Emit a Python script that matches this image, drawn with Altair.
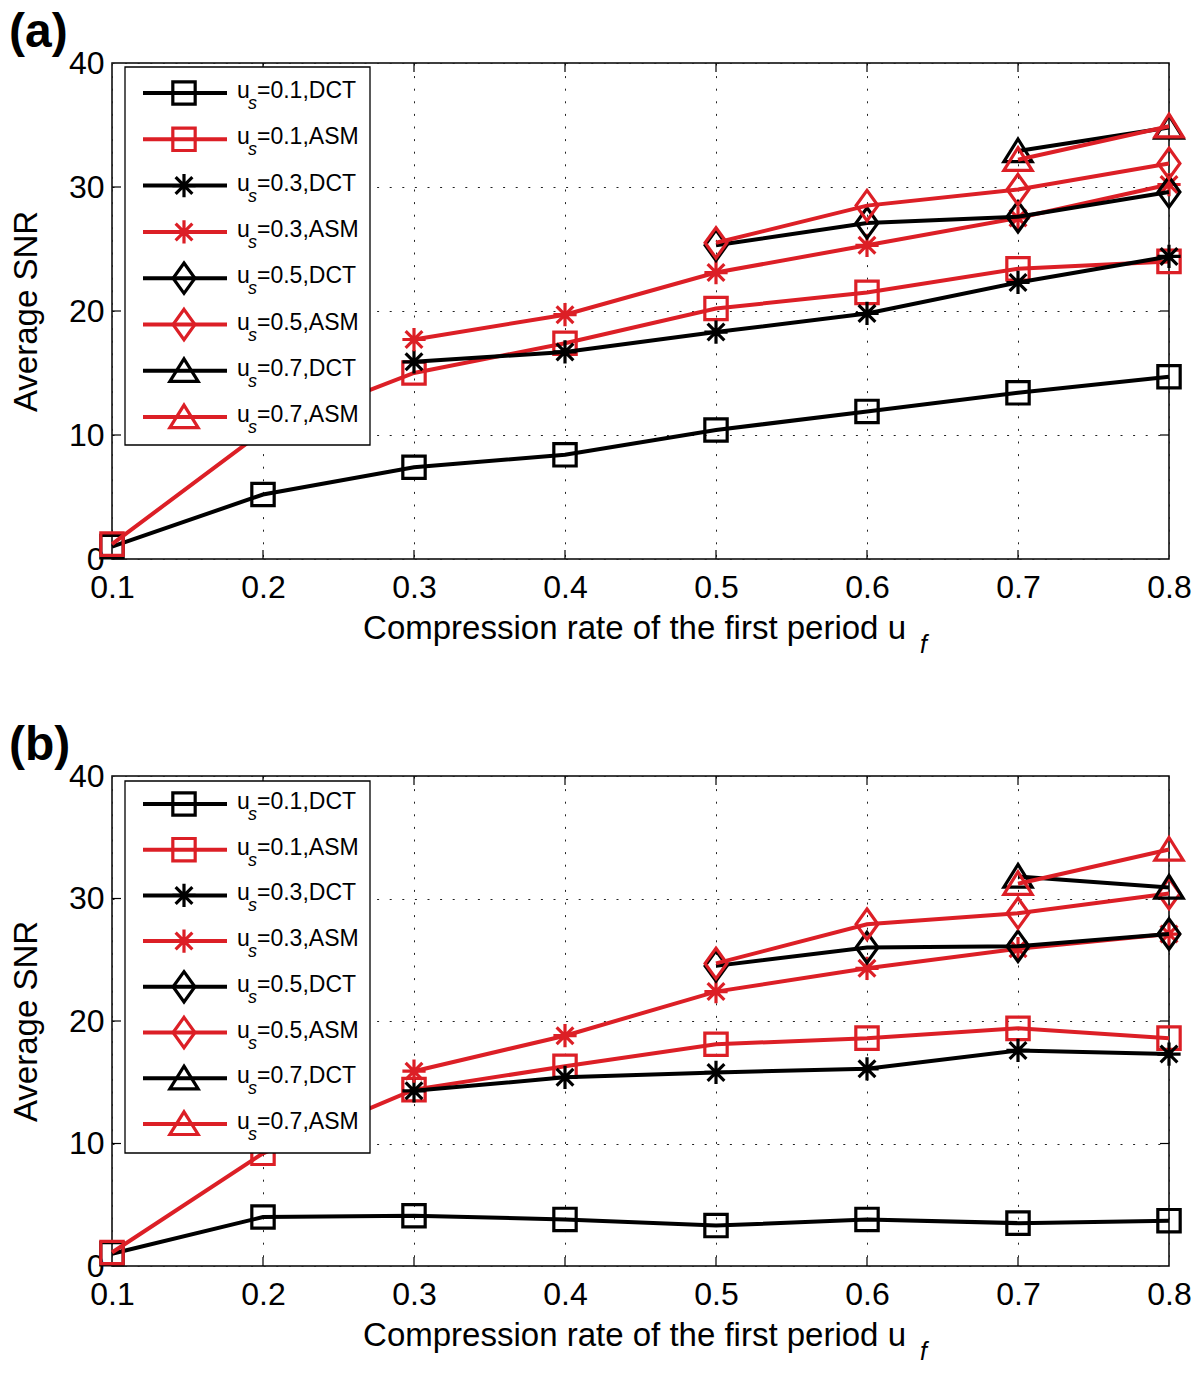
import altair as alt
import pandas as pd

FONT = "Liberation Sans"
RED = "#dc1f26"
BLACK = "#000000"

X_ALL = [0.1, 0.2, 0.3, 0.4, 0.5, 0.6, 0.7, 0.8]
Y_TICKS = [0, 10, 20, 30, 40]
US = ["0.1", "0.1", "0.3", "0.3", "0.5", "0.5", "0.7", "0.7"]
METH = ["DCT", "ASM", "DCT", "ASM", "DCT", "ASM", "DCT", "ASM"]
START = {"0.1": 0, "0.3": 2, "0.5": 4, "0.7": 6}

# panel (a): SNR values per series (series start at x = u_s)
A_DCT_01 = [1.0, 5.2, 7.4, 8.4, 10.4, 11.9, 13.4, 14.7]
A_ASM_01 = [1.2, 10.3, 15.0, 17.4, 20.2, 21.5, 23.4, 24.0]
A_DCT_03 = [15.9, 16.7, 18.3, 19.8, 22.3, 24.4]
A_ASM_03 = [17.7, 19.7, 23.1, 25.3, 27.5, 30.2]
A_DCT_05 = [25.3, 27.1, 27.6, 29.6]
A_ASM_05 = [25.5, 28.5, 29.8, 31.9]
A_DCT_07 = [32.9, 34.8]
A_ASM_07 = [32.2, 34.9]

# panel (b)
B_DCT_01 = [1.0, 4.0, 4.1, 3.8, 3.3, 3.8, 3.5, 3.7]
B_ASM_01 = [1.1, 9.2, 14.4, 16.3, 18.1, 18.6, 19.4, 18.6]
B_DCT_03 = [14.3, 15.4, 15.8, 16.1, 17.6, 17.3]
B_ASM_03 = [15.9, 18.8, 22.4, 24.3, 25.9, 27.1]
B_DCT_05 = [24.5, 26.0, 26.1, 27.1]
B_ASM_05 = [24.7, 27.9, 28.8, 30.4]
B_DCT_07 = [31.8, 30.9]
B_ASM_07 = [31.2, 34.0]

A_VALUES = [A_DCT_01, A_ASM_01, A_DCT_03, A_ASM_03, A_DCT_05, A_ASM_05, A_DCT_07, A_ASM_07]
B_VALUES = [B_DCT_01, B_ASM_01, B_DCT_03, B_ASM_03, B_DCT_05, B_ASM_05, B_DCT_07, B_ASM_07]

SHAPE = {
    "0.1": "M-1,-1L1,-1L1,1L-1,1Z",
    "0.3": "M0,-1L0,1M-1,0L1,0M-0.72,-0.72L0.72,0.72M-0.72,0.72L0.72,-0.72",
    "0.5": "M0,-1L0.72,0L0,1L-0.72,0Z",
    "0.7": "M0,-0.85L1,0.75L-1,0.75Z",
}
SIZE = {"0.1": 500, "0.3": 540, "0.5": 920, "0.7": 800}

W = 1057
TL = 9


def panel(values, tag, H, leg_top, leg_bot, row0, row_step):
    xenc = alt.X("x:Q", scale=alt.Scale(domain=[0.1, 0.8], nice=False, zero=False),
                 axis=alt.Axis(values=X_ALL, format=".1f", title=None, labelPadding=13,
                               labelFlush=False, labelOverlap=False))
    yenc = alt.Y("v:Q", scale=alt.Scale(domain=[0, 40], nice=False, zero=False),
                 axis=alt.Axis(values=Y_TICKS, title="Average SNR", labelPadding=8, titlePadding=25,
                               labelFlush=False, labelOverlap=False))
    layers = []
    # inward ticks (MATLAB style)
    xt = alt.Chart(pd.DataFrame({"x": X_ALL[1:-1]}))
    layers.append(xt.mark_rule(color="black", strokeWidth=1.2).encode(x=xenc, y=alt.value(0), y2=alt.value(TL)))
    layers.append(xt.mark_rule(color="black", strokeWidth=1.2).encode(x=xenc, y=alt.value(H), y2=alt.value(H - TL)))
    yt = alt.Chart(pd.DataFrame({"v": Y_TICKS[1:-1]}))
    layers.append(yt.mark_rule(color="black", strokeWidth=1.2).encode(y=yenc, x=alt.value(0), x2=alt.value(TL)))
    layers.append(yt.mark_rule(color="black", strokeWidth=1.2).encode(y=yenc, x=alt.value(W), x2=alt.value(W - TL)))

    for k, vals in enumerate(values):
        us, meth = US[k], METH[k]
        xs = X_ALL[START[us]:]
        df = pd.DataFrame({"x": xs, "v": vals})
        color = BLACK if meth == "DCT" else RED
        base = alt.Chart(df)
        layers.append(base.mark_line(color=color, strokeWidth=4, clip=False).encode(x=xenc, y=yenc))
        layers.append(base.mark_point(shape=SHAPE[us], size=SIZE[us], filled=False, color=color,
                                      strokeWidth=3.2, opacity=1, clip=False).encode(x=xenc, y=yenc))

    # legend
    one = pd.DataFrame({"a": [0]})
    layers.append(alt.Chart(one).mark_rect(fill="white", stroke="black", strokeWidth=1.3).encode(
        x=alt.value(13), x2=alt.value(258), y=alt.value(leg_top), y2=alt.value(leg_bot)))
    leg = pd.DataFrame({
        "row": list(range(8)),
        "color": [BLACK if m == "DCT" else RED for m in METH],
        "shape": [SHAPE[u] for u in US],
        "sz": [SIZE[u] for u in US],
        "rest": ["=" + u + "," + m for u, m in zip(US, METH)],
    })
    lb = alt.Chart(leg).transform_calculate(ly=f"{row0} + datum.row * {row_step}")
    ly = alt.Y("ly:Q", scale=None)
    layers.append(lb.mark_rule(strokeWidth=4).encode(
        x=alt.value(31), x2=alt.value(115), y=ly, color=alt.Color("color:N", scale=None)))
    layers.append(lb.mark_point(filled=False, strokeWidth=3.2, opacity=1).encode(
        x=alt.value(72), y=ly, shape=alt.Shape("shape:N", scale=None),
        size=alt.Size("sz:Q", scale=None), color=alt.Color("color:N", scale=None)))
    layers.append(lb.mark_text(align="left", baseline="alphabetic", font=FONT, fontSize=23, dy=5,
                               color="black").encode(x=alt.value(125), y=ly, text=alt.value("u")))
    layers.append(lb.mark_text(align="left", baseline="alphabetic", font=FONT, fontSize=18, dy=16,
                               fontStyle="italic", color="black").encode(x=alt.value(136), y=ly, text=alt.value("s")))
    layers.append(lb.mark_text(align="left", baseline="alphabetic", font=FONT, fontSize=23, dy=5,
                               color="black").encode(x=alt.value(145), y=ly, text="rest:N"))

    # x-axis title with italic subscript f
    layers.append(alt.Chart(one).mark_text(align="right", baseline="alphabetic", font=FONT, fontSize=33,
                                           color="black").encode(
        x=alt.value(794), y=alt.value(H + 80), text=alt.value("Compression rate of the first period u")))
    layers.append(alt.Chart(one).mark_text(align="left", baseline="alphabetic", font=FONT, fontSize=25,
                                           fontStyle="italic", color="black").encode(
        x=alt.value(808), y=alt.value(H + 94), text=alt.value("f")))

    return alt.layer(*layers).properties(
        width=W, height=H,
        title=alt.TitleParams(tag, anchor="start", frame="group", dx=-103, offset=-10,
                              fontSize=48, fontWeight="bold", font=FONT, color="black"),
    )


pa = panel(A_VALUES, "(a)", 496, 4, 382, 30, 46.3)
pb = panel(B_VALUES, "(b)", 490, 5, 377, 28, 45.7)

chart = alt.vconcat(pa, pb, spacing=62).properties(
    padding={"top": 0, "left": 0, "right": 0, "bottom": 0}
).configure_view(
    stroke="black", strokeWidth=1.5
).configure_axis(
    labelFont=FONT, labelFontSize=32, labelColor="black",
    titleFont=FONT, titleFontSize=33, titleColor="black", titleFontWeight="normal",
    grid=True, gridColor="#222222", gridDash=[2, 10.6], gridWidth=1, gridOpacity=1,
    domain=False, ticks=False,
)

chart.save("out.html", embed_options={"renderer": "svg", "actions": False})
